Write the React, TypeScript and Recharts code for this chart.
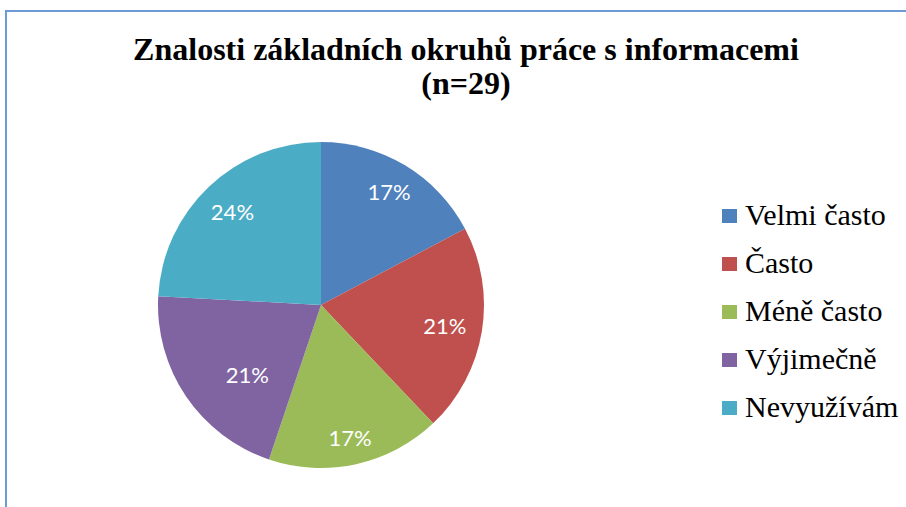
import * as React from 'react';
import { PieChart, Pie, Cell, Legend } from 'recharts';

const categories = ['Velmi často', 'Často', 'Méně často', 'Výjimečně', 'Nevyužívám'];
const counts = [5, 6, 5, 6, 7];
const percentLabels = ['17%', '21%', '17%', '21%', '24%'];

const colors = ['#4F81BD', '#C0504D', '#9BBB59', '#8064A2', '#4BACC6'];
// Excel "best fit" nudges some labels in/out and around a bit
const labelRadius = [0.81, 0.77, 0.83, 0.62, 0.79];
const labelAngleShift = [0, 0, 0, 9, 0];

const data = categories.map((name, i) => ({ name, value: counts[i], label: percentLabels[i] }));

const RADIAN = Math.PI / 180;
const serif = 'Liberation Serif';

const renderLabel = (props: any) => {
  const { cx, cy, midAngle, outerRadius, index } = props;
  const r = outerRadius * labelRadius[index];
  const a = midAngle + labelAngleShift[index];
  const x = cx + r * Math.cos(-a * RADIAN);
  const y = cy + r * Math.sin(-a * RADIAN);
  return (
    <text
      x={x}
      y={y}
      fill="#ffffff"
      textAnchor="middle"
      dominantBaseline="central"
      style={{ fontFamily: 'Lato, sans-serif', fontSize: 22 }}
    >
      {data[index].label}
    </text>
  );
};

const renderLegend = () => (
  <div style={{ fontFamily: serif, fontSize: 30, color: '#000' }}>
    {categories.map((c, i) => (
      <div key={c} style={{ height: 48, lineHeight: '48px', display: 'flex', alignItems: 'center', whiteSpace: 'nowrap' }}>
        <span style={{ display: 'inline-block', width: 15, height: 14, background: colors[i], marginRight: 8, marginTop: 2 }} />
        <span style={{ fontFamily: serif }}>{c}</span>
      </div>
    ))}
  </div>
);

export default function App() {
  return (
    <div style={{ position: 'absolute', left: 0, top: 0, width: 906, height: 507 }}>
      {/* chart area border, cut off at the right and bottom like the reference */}
      <div
        style={{
          position: 'absolute',
          left: 5,
          top: 10,
          width: 940,
          height: 540,
          border: '2px solid #6d9bd6',
          boxSizing: 'border-box',
        }}
      />
      <div
        style={{
          position: 'absolute',
          left: 0,
          top: 32,
          width: 932,
          textAlign: 'center',
          fontFamily: serif,
          fontWeight: 'bold',
          fontSize: 32,
          lineHeight: '34px',
          color: '#000',
        }}
      >
        Znalosti základních okruhů práce s informacemi
        <br />
        (n=29)
      </div>
      <PieChart width={906} height={507} style={{ position: 'absolute', left: 0, top: 0 }}>
        <Pie
          data={data}
          dataKey="value"
          nameKey="name"
          cx={316}
          cy={300}
          outerRadius={163}
          startAngle={90}
          endAngle={-270}
          stroke="none"
          label={renderLabel}
          labelLine={false}
          isAnimationActive={false}
        >
          {data.map((d, i) => (
            <Cell key={d.name} fill={colors[i]} />
          ))}
        </Pie>
        <Legend
          content={renderLegend}
          layout="vertical"
          wrapperStyle={{ position: 'absolute', left: 722, top: 191, width: 184 }}
        />
      </PieChart>
    </div>
  );
}
